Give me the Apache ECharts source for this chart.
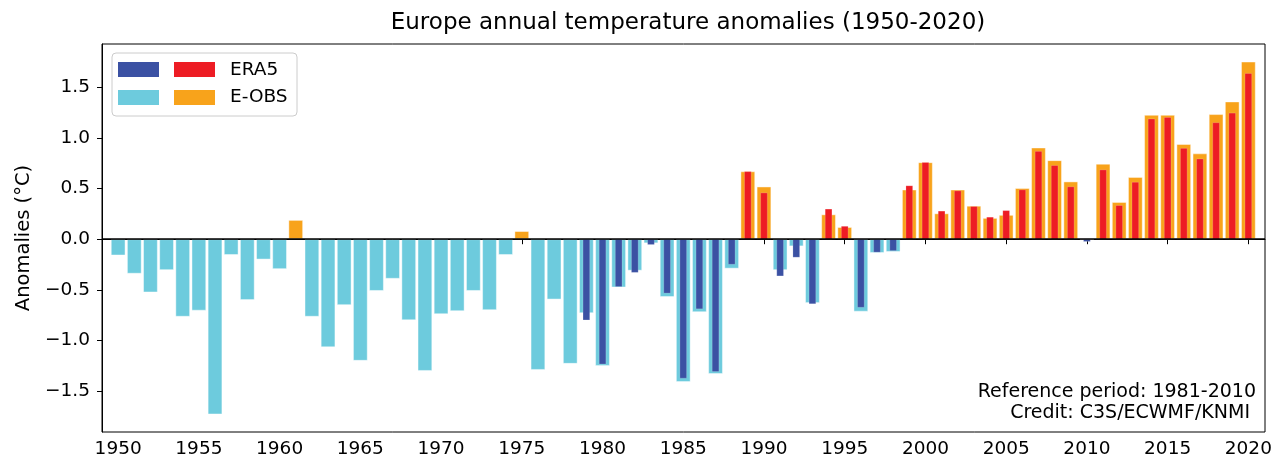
<!DOCTYPE html>
<html><head><meta charset="utf-8">
<script src="https://cdn.jsdelivr.net/npm/echarts@6/dist/echarts.min.js"></script>
<style>html,body{margin:0;padding:0;background:#fff}#c{width:1281px;height:464px}</style>
</head><body><div id="c"></div>
<script>
const eobsYears = [1950,1951,1952,1953,1954,1955,1956,1957,1958,1959,1960,1961,1962,1963,1964,1965,1966,1967,1968,1969,1970,1971,1972,1973,1974,1975,1976,1977,1978,1979,1980,1981,1982,1983,1984,1985,1986,1987,1988,1989,1990,1991,1992,1993,1994,1995,1996,1997,1998,1999,2000,2001,2002,2003,2004,2005,2006,2007,2008,2009,2010,2011,2012,2013,2014,2015,2016,2017,2018,2019,2020];
const eobsValues = [-0.16,-0.34,-0.525,-0.305,-0.765,-0.705,-1.73,-0.155,-0.60,-0.20,-0.295,0.19,-0.765,-1.067,-0.65,-1.20,-0.51,-0.39,-0.80,-1.30,-0.74,-0.71,-0.51,-0.70,-0.155,0.08,-1.29,-0.595,-1.23,-0.73,-1.25,-0.476,-0.31,-0.04,-0.57,-1.41,-0.72,-1.33,-0.29,0.67,0.52,-0.305,-0.07,-0.63,0.245,0.12,-0.715,-0.135,-0.125,0.49,0.76,0.255,0.49,0.33,0.21,0.24,0.505,0.905,0.78,0.57,-0.005,0.745,0.367,0.614,1.228,1.228,0.94,0.847,1.235,1.36,1.754];
const era5Years = [1979,1980,1981,1982,1983,1984,1985,1986,1987,1988,1989,1990,1991,1992,1993,1994,1995,1996,1997,1998,1999,2000,2001,2002,2003,2004,2005,2006,2007,2008,2009,2010,2011,2012,2013,2014,2015,2016,2017,2018,2019,2020];
const era5Values = [-0.80,-1.235,-0.47,-0.33,-0.055,-0.535,-1.375,-0.69,-1.31,-0.25,0.67,0.46,-0.365,-0.18,-0.64,0.30,0.13,-0.675,-0.13,-0.115,0.53,0.76,0.28,0.48,0.325,0.22,0.285,0.49,0.87,0.73,0.52,-0.025,0.687,0.335,0.565,1.19,1.205,0.90,0.795,1.153,1.248,1.64];
const xTickValues = [1950,1955,1960,1965,1970,1975,1980,1985,1990,1995,2000,2005,2010,2015,2020];
const yTickValues = [-1.5,-1.0,-0.5,0.0,0.5,1.0,1.5];

const FONT = 'DejaVu Sans';
const C = {era5Neg:'#3b51a3', era5Pos:'#ed1c24', eobsNeg:'#6dcbdd', eobsPos:'#f8a31b'};

const chart = echarts.init(document.getElementById('c'), null, {renderer:'canvas'});
const xAxisBase = {
  type:'value', min:1949, max:2021.03,
  splitLine:{show:false}
};
chart.setOption({
  animation:false,
  backgroundColor:'#fff',
  title:{text:'Europe annual temperature anomalies (1950-2020)', left:683, top:7, textAlign:'center',
    textStyle:{fontFamily:FONT, fontSize:23, fontWeight:'normal', color:'#000'}},
  grid:{left:102, right:16, top:44, bottom:32, show:true, borderColor:'#000', borderWidth:1, backgroundColor:'transparent'},
  xAxis:[
    Object.assign({}, xAxisBase, {
      axisLine:{show:true, lineStyle:{color:'#000', width:1}},
      axisTick:{show:true, inside:false, length:5, lineStyle:{color:'#000', width:1}, customValues:xTickValues},
      axisLabel:{show:true, customValues:xTickValues, margin:8, fontFamily:FONT, fontSize:18.5, color:'#000', formatter:v=>String(v)}
    }),
    Object.assign({}, xAxisBase, {show:false})
  ],
  yAxis:{
    type:'value', min:-1.904, max:1.928,
    name:'Anomalies (°C)', nameLocation:'middle', nameGap:63,
    nameTextStyle:{fontFamily:FONT, fontSize:19.5, color:'#000'},
    splitLine:{show:false},
    axisLine:{show:true, lineStyle:{color:'#000', width:1}},
    axisTick:{show:true, inside:false, length:5, lineStyle:{color:'#000', width:1}, customValues:yTickValues},
    axisLabel:{show:true, customValues:yTickValues, margin:12, fontFamily:FONT, fontSize:18.5, color:'#000',
      formatter:v=>Number(v).toFixed(1).replace('-', '\u2212')}
  },
  series:[
    {
      name:'E-OBS', type:'bar', xAxisIndex:0, yAxisIndex:0, barWidth:14.6,
      data:eobsYears.map((y,i)=>[y, eobsValues[i]]),
      itemStyle:{color:p=>p.value[1]<0?C.eobsNeg:C.eobsPos, borderColor:'rgba(255,255,255,0.55)', borderWidth:0.8},
      z:2
    },
    {
      name:'ERA5', type:'bar', xAxisIndex:1, yAxisIndex:0, barWidth:7.2,
      data:era5Years.map((y,i)=>[y, era5Values[i]]),
      itemStyle:{color:p=>p.value[1]<0?C.era5Neg:C.era5Pos, borderColor:'rgba(255,255,255,0.35)', borderWidth:0.5},
      z:3,
      markLine:{silent:true, symbol:['none','none'], label:{show:false}, z:10,
        lineStyle:{color:'#000', width:1.6, type:'solid'}, data:[{yAxis:0}]}
    }
  ],
  graphic:[
    {type:'rect', z:100, shape:{x:112, y:53, width:185, height:63, r:4}, style:{fill:'rgba(255,255,255,0.85)', stroke:'#cccccc', lineWidth:1}},
    {type:'rect', z:101, shape:{x:118, y:62, width:41, height:15}, style:{fill:C.era5Neg}},
    {type:'rect', z:101, shape:{x:174, y:62, width:41, height:15}, style:{fill:C.era5Pos}},
    {type:'rect', z:101, shape:{x:118, y:90, width:41, height:15}, style:{fill:C.eobsNeg}},
    {type:'rect', z:101, shape:{x:174, y:90, width:41, height:15}, style:{fill:C.eobsPos}},
    {type:'text', z:101, x:230, y:70, style:{text:'ERA5', fontFamily:FONT, fontSize:18.5, fill:'#000', textVerticalAlign:'middle'}},
    {type:'text', z:101, x:230, y:97, style:{text:'E-OBS', fontFamily:FONT, fontSize:18.5, fill:'#000', textVerticalAlign:'middle'}},
    {type:'text', z:101, x:1256, y:392, style:{text:'Reference period: 1981-2010', fontFamily:FONT, fontSize:19, fill:'#000', textAlign:'right', textVerticalAlign:'middle'}},
    {type:'text', z:101, x:1250, y:413, style:{text:'Credit: C3S/ECWMF/KNMI', fontFamily:FONT, fontSize:19, fill:'#000', textAlign:'right', textVerticalAlign:'middle'}}
  ]
});
</script></body></html>
